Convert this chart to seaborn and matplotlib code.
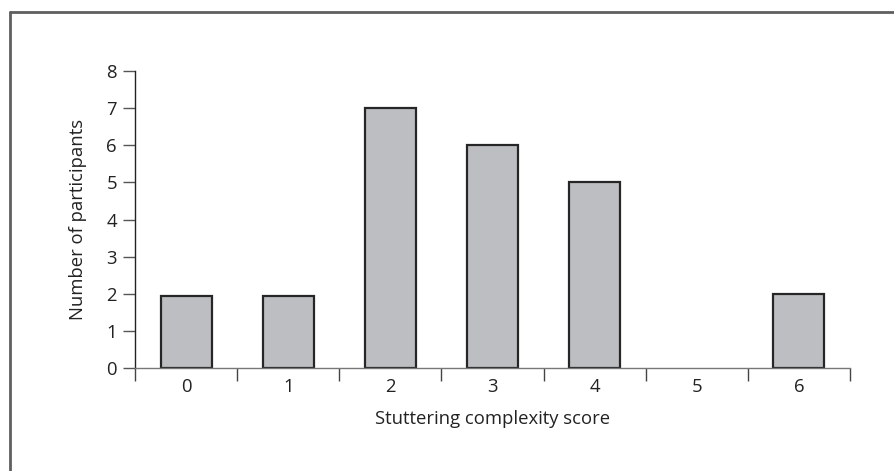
import matplotlib
matplotlib.use("Agg")
import matplotlib.pyplot as plt
import seaborn as sns
import pandas as pd
from matplotlib.lines import Line2D

scores = ["0", "1", "2", "3", "4", "5", "6"]
participants = [1.93, 1.93, 7, 6, 5, 0, 2]
y_ticks = [0, 1, 2, 3, 4, 5, 6, 7, 8]

sns.set_style("white")
plt.rcParams["font.family"] = ["Open Sans", "DejaVu Sans"]

df = pd.DataFrame({"score": scores, "n": participants})

fig = plt.figure(figsize=(8.95, 4.71), dpi=100)
ax = fig.add_axes([135 / 895, 1 - 368 / 471, (850 - 135) / 895, (368 - 71) / 471])

sns.barplot(data=df, x="score", y="n", color="#bdbec2", saturation=1,
            width=0.5, edgecolor="#262626", linewidth=1.6, ax=ax)
for p in ax.patches:
    if p.get_height() == 0:
        p.set_linewidth(0)

fs = 13.3
ax.set_xlim(-0.5, len(scores) - 0.5)
ax.set_ylim(0, 8)
ax.set_yticks(y_ticks)
ax.set_yticklabels([str(t) for t in y_ticks], fontsize=fs, color="#222222")
ax.set_xticks([i - 0.5 for i in range(len(scores) + 1)], minor=False)
ax.set_xticklabels([""] * (len(scores) + 1))
ax.set_xticks(range(len(scores)), minor=True)
ax.set_xticklabels(scores, minor=True, fontsize=fs, color="#222222")
ax.tick_params(axis="x", which="major", direction="out", length=9, width=1,
               color="#444444", bottom=True)
ax.tick_params(axis="x", which="minor", length=0, pad=7, bottom=True)
ax.tick_params(axis="y", direction="out", length=9, width=1, color="#555555",
               left=True, pad=4)

for s in ["top", "right"]:
    ax.spines[s].set_visible(False)
ax.spines["left"].set_color("#222222")
ax.spines["left"].set_linewidth(1)
ax.spines["bottom"].set_color("#777777")
ax.spines["bottom"].set_linewidth(1)

ax.set_xlabel("Stuttering complexity score", fontsize=fs, color="#222222", labelpad=10)
ax.set_ylabel("Number of participants", fontsize=fs, color="#222222", labelpad=14)

# frame lines (top and left) of the figure
fig.add_artist(Line2D([10 / 895, 10 / 895], [0, 1 - 12 / 471], transform=fig.transFigure,
                      color="#5f5f5f", linewidth=2))
fig.add_artist(Line2D([10 / 895, 1], [1 - 12 / 471, 1 - 12 / 471], transform=fig.transFigure,
                      color="#5f5f5f", linewidth=2))

fig.savefig("out.png", dpi=100)
